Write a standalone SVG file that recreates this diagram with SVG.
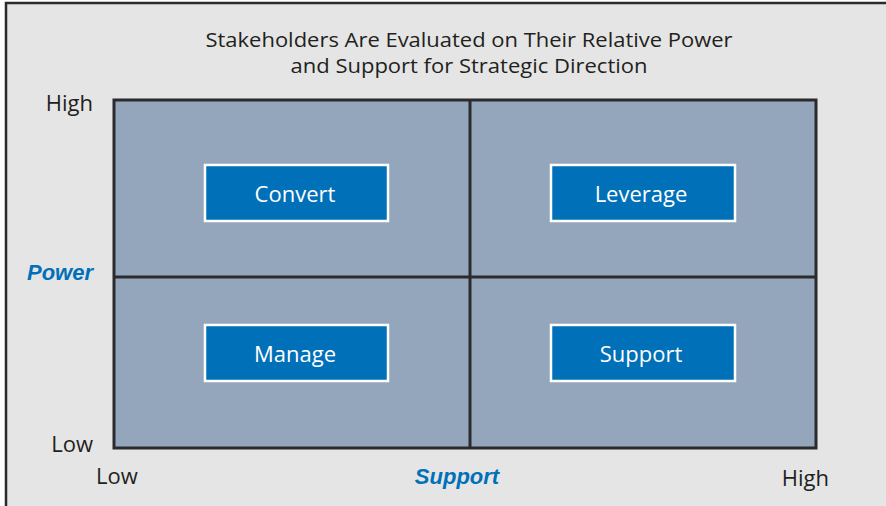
<svg xmlns="http://www.w3.org/2000/svg" width="886" height="506" viewBox="0 0 886 506">
  <style>
    .lbl { font-family: "Open Sans", "Liberation Sans", sans-serif; fill: #231f20; }
    .axis { font-family: "Liberation Sans", Arial, sans-serif; font-weight: bold; font-style: italic; fill: #0070b8; font-size: 22px; }
    .box rect { fill: #0070b8; stroke: #ffffff; stroke-width: 2.5; }
    .box text { font-family: "Open Sans", "Liberation Sans", sans-serif; fill: #ffffff; font-size: 22px; text-anchor: middle; }
    .grid { stroke: #2b2b2e; stroke-width: 3; }
  </style>
  <!-- frame -->
  <rect x="0" y="0" width="886" height="506" fill="#ffffff"/>
  <rect x="6" y="3" width="884" height="510" fill="#e5e5e5" stroke="#2b2b2e" stroke-width="2.5"/>

  <!-- title -->
  <text class="lbl" x="469" y="47" font-size="20" text-anchor="middle" textLength="527" lengthAdjust="spacingAndGlyphs">Stakeholders Are Evaluated on Their Relative Power</text>
  <text class="lbl" x="469" y="73" font-size="20" text-anchor="middle" textLength="357" lengthAdjust="spacingAndGlyphs">and Support for Strategic Direction</text>

  <!-- matrix -->
  <g id="matrix">
    <rect x="114" y="100" width="702" height="348" fill="#94a6bb" class="grid"/>
    <line class="grid" x1="470" y1="100" x2="470" y2="448"/>
    <line class="grid" x1="114" y1="277" x2="816" y2="277"/>
  </g>

  <!-- axis labels -->
  <text class="lbl" x="93" y="111" font-size="22" text-anchor="end">High</text>
  <text class="axis" x="93" y="280" text-anchor="end">Power</text>
  <text class="lbl" x="93" y="452" font-size="22" text-anchor="end">Low</text>
  <text class="lbl" x="96" y="484" font-size="22">Low</text>
  <text class="axis" x="457" y="484" text-anchor="middle">Support</text>
  <text class="lbl" x="829" y="486" font-size="22" text-anchor="end">High</text>

  <!-- quadrants -->
  <g id="convert" class="box">
    <rect x="205" y="165" width="183" height="56"/>
    <text x="295" y="202">Convert</text>
  </g>
  <g id="leverage" class="box">
    <rect x="551" y="165" width="184" height="56"/>
    <text x="641" y="202">Leverage</text>
  </g>
  <g id="manage" class="box">
    <rect x="205" y="325" width="183" height="56"/>
    <text x="295" y="362">Manage</text>
  </g>
  <g id="support" class="box">
    <rect x="551" y="325" width="184" height="56"/>
    <text x="641" y="362">Support</text>
  </g>
</svg>
